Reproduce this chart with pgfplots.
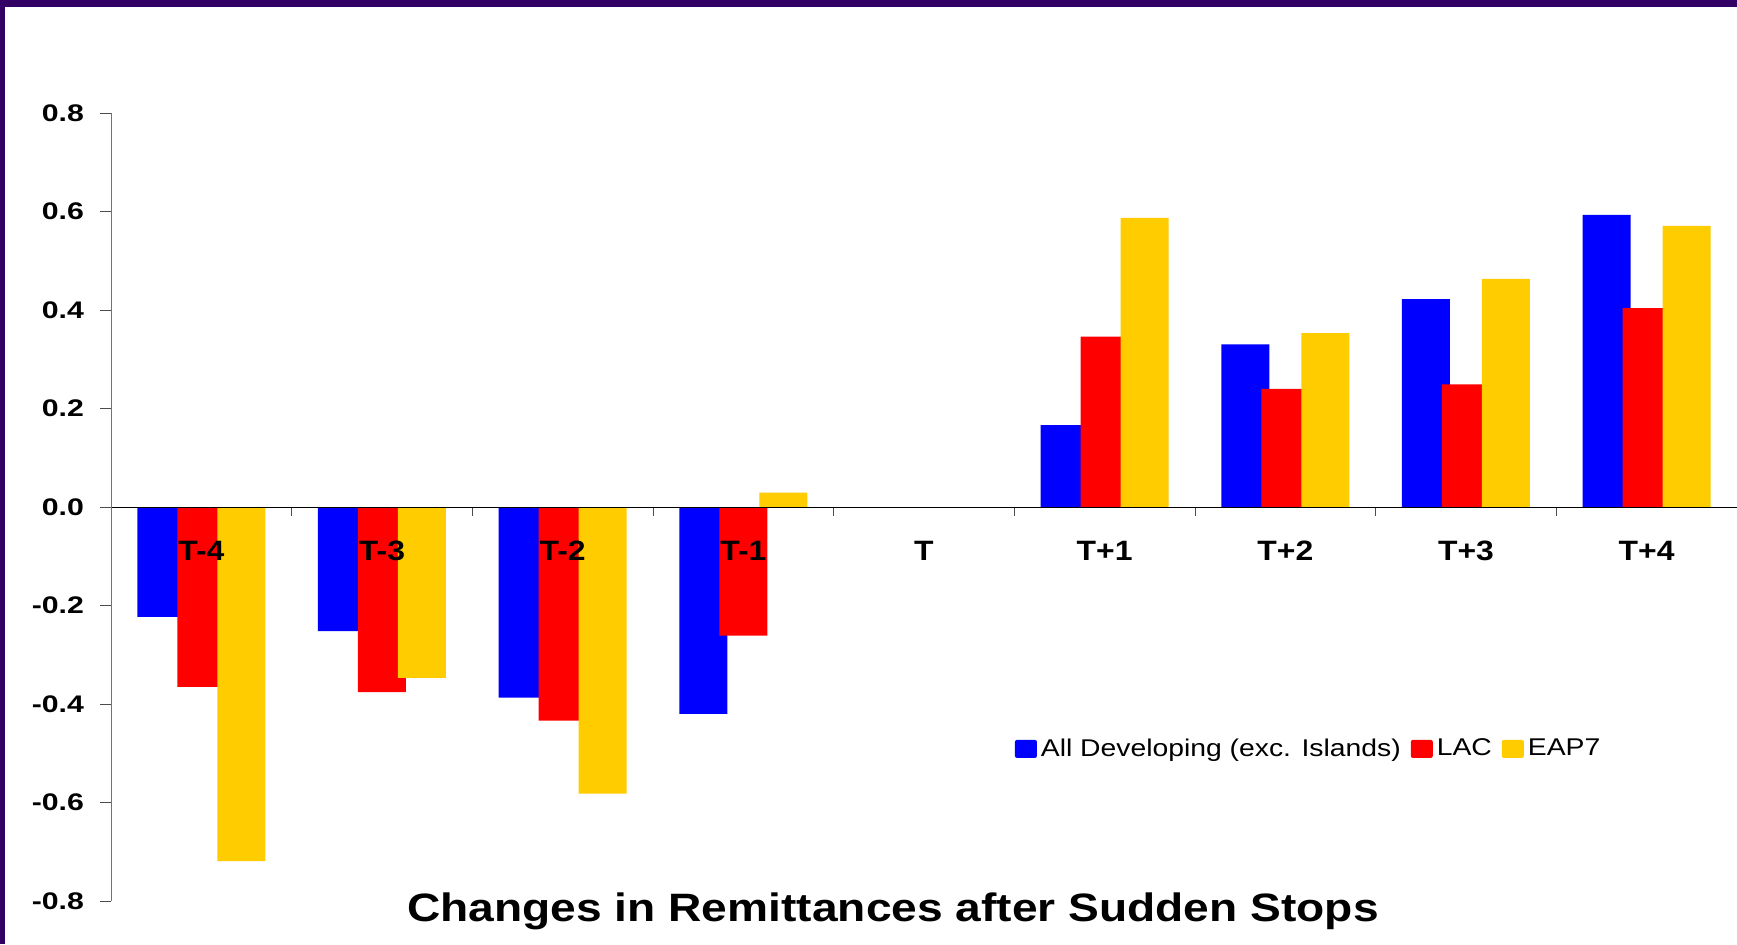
\documentclass[border=0pt]{standalone}
\usepackage{fontspec}
\setmainfont{Liberation Sans}
\newfontfamily\stretchfont[FakeStretch=1.14]{Liberation Sans}
\newfontfamily\legfont[FakeStretch=1.17]{Liberation Sans}
\newfontfamily\titlefont[FakeStretch=1.165]{Liberation Sans}
\newfontfamily\ystretchfont[FakeStretch=1.26]{Liberation Sans}
\usepackage{pgfplots}
\pgfplotsset{compat=1.18}
\definecolor{cblue}{RGB}{0,0,255}
\definecolor{cred}{RGB}{255,0,0}
\definecolor{cyellow}{RGB}{255,204,0}
\definecolor{bordercol}{RGB}{51,0,102}
\begin{document}
\begin{tikzpicture}[x=1pt,y=1pt]
\useasboundingbox (0,0) rectangle (868.5,472);
\fill[white] (0,0) rectangle (868.5,472);
\begin{axis}[
  at={(55.5pt,21.5pt)}, anchor=south west,
  scale only axis, width=813pt, height=394pt,
  xmin=-0.5, xmax=8.5, ymin=-0.8, ymax=0.8,
  axis x line=middle, axis y line=left,
  axis line style={-},
  y axis line style={black!55},
  axis on top=true,
  ybar, bar width=24pt,
  xtick={0,1,2,3,4,5,6,7,8},
  xticklabels={T-4,T-3,T-2,T-1,T,T+1,T+2,T+3,T+4},
  minor xtick={0.5,1.5,2.5,3.5,4.5,5.5,6.5,7.5,8.5},
  ytick={-0.8,-0.6,-0.4,-0.2,0,0.2,0.4,0.6,0.8},
  tick align=outside,
  major tick length=5.5pt,
  minor tick length=4.5pt,
  major x tick style={draw=none},
  minor x tick style={black!70},
  ytick style={black!70},
  yticklabel style={/pgf/number format/.cd, fixed, fixed zerofill, precision=1, assume math mode=true,
    /tikz/.cd, font=\ystretchfont\bfseries\fontsize{12}{14}\selectfont, xshift=-4.5pt},
  xticklabel style={anchor=north, yshift=-8pt, font=\stretchfont\bfseries\fontsize{14}{16}\selectfont},
  legend style={at={(0.552,0.193)}, anchor=west, draw=none, fill=none,
    font=\legfont\fontsize{12.1}{14}\selectfont,
    /tikz/every even column/.append style={column sep=3pt}},
  legend columns=3,
  legend image code/.code={\path[#1,draw=none,rounded corners=1pt] (0pt,-4.5pt) rectangle (11pt,4.5pt);},
]
\addplot[fill=cblue, draw=none, bar shift=-20pt] coordinates {
 (0,-0.223) (1,-0.252) (2,-0.387) (3,-0.420) (5,0.166) (6,0.330) (7,0.422) (8,0.593)};
\addplot[fill=cred, draw=none, bar shift=0pt] coordinates {
 (0,-0.365) (1,-0.376) (2,-0.434) (3,-0.261) (5,0.346) (6,0.240) (7,0.249) (8,0.404)};
\addplot[fill=cyellow, draw=none, bar shift=20pt] coordinates {
 (0,-0.719) (1,-0.347) (2,-0.582) (3,0.029) (5,0.587) (6,0.353) (7,0.463) (8,0.571)};
\legend{All Developing (exc. Islands),LAC,EAP7}
\end{axis}
\node[anchor=base, font=\titlefont\bfseries\fontsize{19.8}{24}\selectfont] at (446.5,11.2) {Changes in Remittances after Sudden Stops};
\fill[bordercol] (0,468.5) rectangle (868.5,472);
\fill[bordercol] (0,0) rectangle (2.5,472);
\end{tikzpicture}
\end{document}
